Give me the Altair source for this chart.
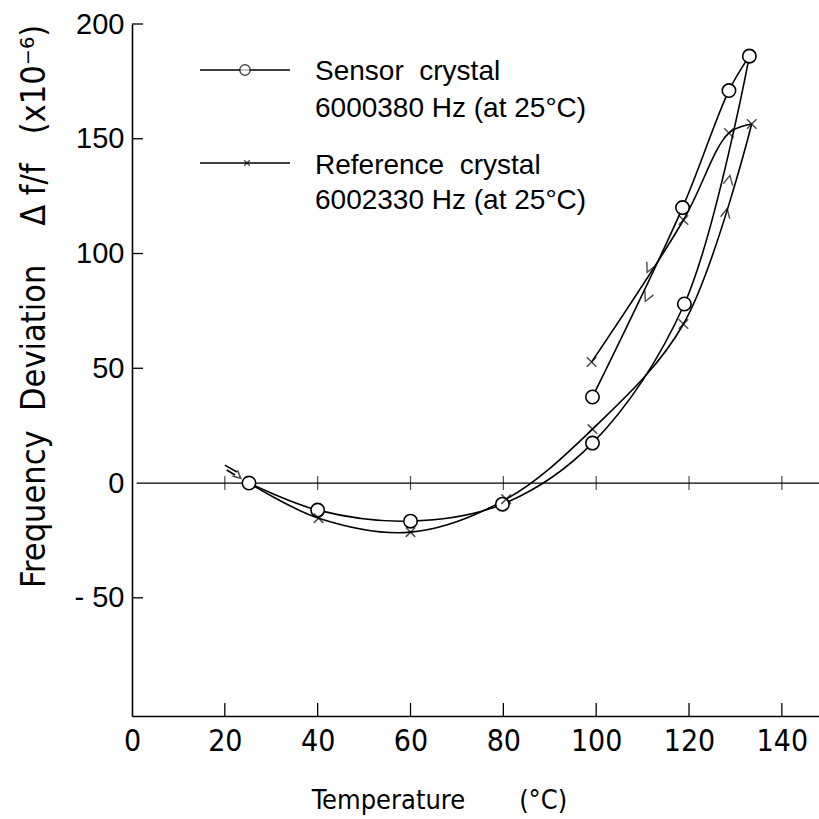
import altair as alt
import pandas as pd

# ---------------- data ----------------
# Sensor crystal (open circles)
sensor_heat_T = [25.2, 40, 60, 79.8, 99.2, 119, 133]
sensor_heat_v = [0, -11.8, -16.6, -9.2, 17.4, 78, 186]
sensor_cool_T = [99.2, 118.6, 128.6, 133]
sensor_cool_v = [37.5, 120, 171, 186]

# Reference crystal (crosses)
ref_heat_T = [25.2, 40.2, 60, 80.6, 99.2, 118.8, 133.5]
ref_heat_v = [0, -15.3, -21.4, -7, 23.5, 69.3, 156.4]
ref_cool_T = [99, 118.8, 128.6, 133.5]
ref_cool_v = [52.7, 114.6, 152.5, 156.4]

# start arrows (two short strokes at ~20 degC)
start_T = [[20.0, 22.6], [20.4, 22.2]]
start_v = [[7.8, 4.8], [5.7, 3.5]]
start_head_T = [22.8]
start_head_v = [3.2]

# direction arrows on the loop
cool_arrow_T = [111.4, 111.0]
cool_arrow_v = [93.7, 81.0]
heat_arrow_T = [128.6, 128.0]
heat_arrow_v = [132.0, 117.6]

x_ticks = [0, 20, 40, 60, 80, 100, 120, 140]
y_ticks = [-50, 0, 50, 100, 150, 200]

legend_labels = ["Sensor\u00a0\u00a0crystal", "6000380 Hz (at 25°C)",
                 "Reference\u00a0\u00a0crystal", "6002330 Hz (at 25°C)"]
x_title = "Temperature\u00a0\u00a0\u00a0\u00a0\u00a0\u00a0\u00a0(°C)"
y_title = ("Frequency\u00a0\u00a0Deviation\u00a0\u00a0\u00a0\u00a0Δ f/f"
           "\u00a0\u00a0\u00a0(x10⁻⁶)")

# ---------------- frames ----------------
def frame(T, v, branch):
    return pd.DataFrame({"T": T, "v": v, "branch": branch})

lines_df = pd.concat([
    frame(sensor_heat_T, sensor_heat_v, "sh"),
    frame(sensor_cool_T, sensor_cool_v, "sc"),
    frame(ref_heat_T, ref_heat_v, "rh"),
    frame(ref_cool_T, ref_cool_v, "rc"),
])
circ_df = pd.concat([frame(sensor_heat_T, sensor_heat_v, "s"),
                     frame(sensor_cool_T[:-1], sensor_cool_v[:-1], "s")])
cross_df = pd.concat([frame(ref_heat_T[1:], ref_heat_v[1:], "r"),
                      frame(ref_cool_T[:-1], ref_cool_v[:-1], "r")])
start_df = pd.concat([frame(t, v, f"s{i}") for i, (t, v) in enumerate(zip(start_T, start_v))])
head_df = frame(start_head_T, start_head_v, "h")
cool_df = frame(cool_arrow_T, cool_arrow_v, "c")
heat_df = frame(heat_arrow_T, heat_arrow_v, "w")
zero_df = pd.DataFrame({"T": [1.0], "T2": [148.0], "v": [0.0]})
xt_df = pd.DataFrame({"T": x_ticks[1:], "v": [0.0] * (len(x_ticks) - 1)})
yt_df = pd.DataFrame({"v": [t for t in y_ticks if t != 0]})
one = pd.DataFrame({"a": [0]})

W, H = 687, 692
SANS = "Liberation Sans, Arial, sans-serif"
NARROW = "Liberation Sans Narrow, DejaVu Sans Condensed, Liberation Sans, sans-serif"

xs = alt.Scale(domain=[0, 148], nice=False, zero=False)
ys = alt.Scale(domain=[-101.5, 200], nice=False, zero=False)

x_axis = alt.Axis(values=x_ticks, ticks=False, tickSize=0, grid=False, domainColor="black",
                  domainWidth=1.6, labelFont=NARROW, labelFontSize=30,
                  labelColor="black", labelPadding=10, labelFlush=False,
                  title=x_title, titleFont=NARROW, titleFontSize=27,
                  titleFontWeight="normal", titleColor="black",
                  titleX=307, titleY=84, titleAlign="center", titleBaseline="middle")
y_axis = alt.Axis(values=y_ticks, ticks=False, tickSize=0, grid=False, domainColor="black",
                  domainWidth=1.6, labelFont=SANS, labelFontSize=29,
                  labelColor="black", labelPadding=8, labelFlush=False,
                  labelExpr="datum.value < 0 ? '- ' + format(-datum.value, 'd') : format(datum.value, 'd')",
                  title=y_title, titleFont=NARROW, titleFontSize=34,
                  titleFontWeight="normal", titleColor="black", titleAngle=270,
                  titleX=-98, titleY=282, titleAlign="center", titleBaseline="middle")

X = alt.X("T:Q", scale=xs, axis=x_axis)
Y = alt.Y("v:Q", scale=ys, axis=y_axis)

lines = alt.Chart(lines_df).mark_line(color="black", strokeWidth=1.6,
                                      interpolate="catmull-rom").encode(
    x=X, y=Y, detail="branch:N", order="T:Q")

zero_line = alt.Chart(zero_df).mark_rule(color="black", strokeWidth=1.2).encode(
    x=X, x2="T2:Q", y=Y)
zero_ticks = alt.Chart(xt_df).mark_tick(orient="vertical", size=14, thickness=1.2,
                                        color="black").encode(x=X, y=Y)
bottom_ticks = alt.Chart(xt_df).mark_rule(color="black", strokeWidth=1.3).encode(
    x=X, y=alt.value(H), y2=alt.value(H - 13))
left_ticks = alt.Chart(yt_df).mark_rule(color="black", strokeWidth=1.3).encode(
    y=Y, x=alt.value(0), x2=alt.value(11))

start = alt.Chart(start_df).mark_line(color="black", strokeWidth=1.6).encode(
    x=X, y=Y, detail="branch:N", order="T:Q")
VHEAD = "M-1,1L0,-1L1,1"
start_head = alt.Chart(head_df).mark_point(shape=VHEAD, filled=False, color="black",
                                           strokeWidth=1.6, size=60, angle=132).encode(x=X, y=Y)
cool_arrows = alt.Chart(cool_df).mark_point(shape=VHEAD, filled=False, color="black",
                                            strokeWidth=1.4, size=90, angle=205).encode(x=X, y=Y)
heat_arrows = alt.Chart(heat_df).mark_point(shape=VHEAD, filled=False, color="black",
                                            strokeWidth=1.4, size=90, angle=12).encode(x=X, y=Y)

circles = alt.Chart(circ_df).mark_point(shape="circle", filled=True, fill="white",
                                        stroke="black", strokeWidth=1.6,
                                        size=180, opacity=1).encode(x=X, y=Y)
XSHAPE = "M-1,-1L1,1M-1,1L1,-1"
crosses = alt.Chart(cross_df).mark_point(shape=XSHAPE, filled=False, color="black",
                                         strokeWidth=1.5, size=90).encode(x=X, y=Y)

# legend
leg = []
for yy in (46, 139):
    leg.append(alt.Chart(one).mark_rule(color="black", strokeWidth=1.3).encode(
        x=alt.value(68), x2=alt.value(158), y=alt.value(yy)))
leg.append(alt.Chart(one).mark_point(shape="circle", filled=True, fill="white",
                                     stroke="black", strokeWidth=1.4, size=110).encode(
    x=alt.value(113), y=alt.value(46)))
leg.append(alt.Chart(one).mark_point(shape=XSHAPE, filled=False, color="black",
                                     strokeWidth=1.3, size=30).encode(
    x=alt.value(115), y=alt.value(139)))
for lab, yy in zip(legend_labels, (48, 85, 142, 177)):
    leg.append(alt.Chart(one).mark_text(align="left", baseline="middle", font=SANS,
                                        fontSize=28, color="black").encode(
        x=alt.value(183), y=alt.value(yy), text=alt.value(lab)))

chart = alt.layer(
    lines, zero_line, zero_ticks, bottom_ticks, left_ticks, start, start_head,
    cool_arrows, heat_arrows, circles, crosses, *leg
).properties(
    width=W, height=H,
    padding={"left": 132, "top": 24, "right": 0, "bottom": 103},
    autosize=alt.AutoSizeParams(type="none"),
    background="white",
).configure_view(stroke=None).configure_axis(ticks=False, tickSize=0)

chart.save("out.html", embed_options={"renderer": "svg", "actions": False})
